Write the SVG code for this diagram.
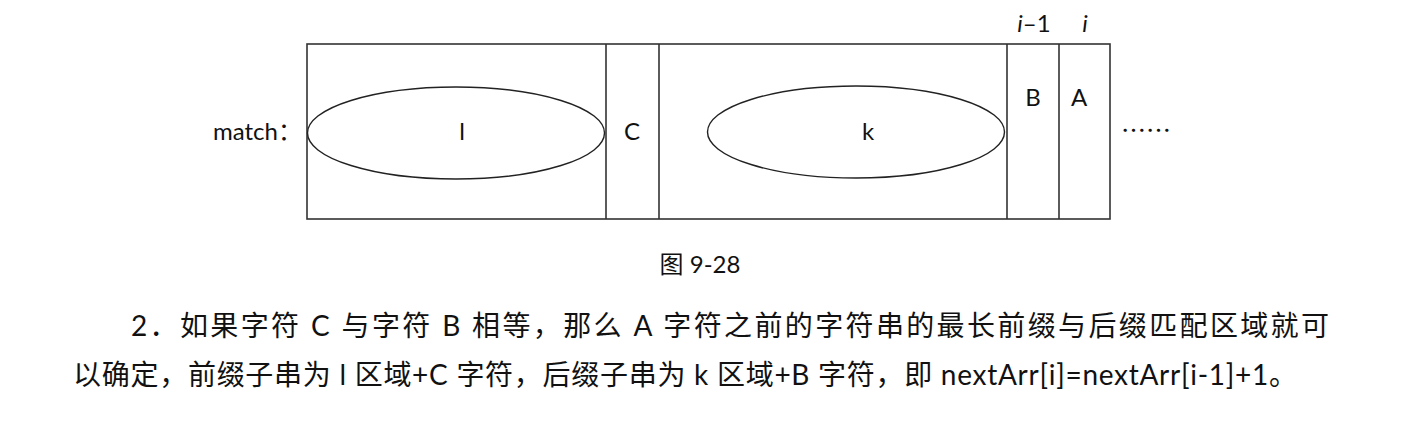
<svg xmlns="http://www.w3.org/2000/svg" width="1416" height="432" viewBox="0 0 1416 432">
<style>
.box{fill:none;stroke:#333;stroke-width:1.6}
.ell{fill:none;stroke:#222;stroke-width:1.4}
.lbl{font-family:Lato,"Noto Sans CJK SC",sans-serif;font-size:24px;fill:#111}
.ital{font-family:Lato,"Noto Sans CJK SC",sans-serif;font-size:24px;font-style:italic;fill:#111}
.body{font-family:Lato,"Noto Sans CJK SC",sans-serif;font-size:28px;fill:#111}
.cap{font-family:Lato,"Noto Sans CJK SC",sans-serif;font-size:24px;fill:#111}
</style>
<rect width="1416" height="432" fill="#fff"/>
<g id="array">
<rect class="box" x="307" y="44" width="803" height="175"/>
<line class="box" x1="606" y1="44" x2="606" y2="219"/>
<line class="box" x1="659" y1="44" x2="659" y2="219"/>
<line class="box" x1="1007" y1="44" x2="1007" y2="219"/>
<line class="box" x1="1059" y1="44" x2="1059" y2="219"/>
</g>
<g id="label-match"><text class="lbl" x="213" y="140">match：</text></g>
<g id="region-l">
<ellipse class="ell" cx="456" cy="133" rx="148.5" ry="46"/>
<text class="lbl" x="462" y="140" text-anchor="middle">l</text>
</g>
<g id="cell-C"><text class="lbl" x="632" y="140" text-anchor="middle">C</text></g>
<g id="region-k">
<ellipse class="ell" cx="856" cy="132" rx="148.5" ry="46"/>
<text class="lbl" x="868" y="140" text-anchor="middle">k</text>
</g>
<g id="cell-B">
<text class="lbl" x="1033" y="106" text-anchor="middle">B</text>
<text x="1034" y="32" text-anchor="middle" class="lbl"><tspan font-style="italic">i</tspan>–1</text>
</g>
<g id="cell-A">
<text class="lbl" x="1079" y="106" text-anchor="middle">A</text>
<text class="ital" x="1085" y="32" text-anchor="middle">i</text>
</g>
<g id="ellipsis"><text x="1121" y="140" style="font-family:'Noto Sans CJK SC',sans-serif;font-size:25px;fill:#111">……</text></g>
<g id="connectors"></g>
<g id="caption"><text class="cap" x="700" y="273" text-anchor="middle">图 9-28</text></g>
<g id="paragraph">
<text class="body" x="131" y="336" textLength="1198" lengthAdjust="spacing">2．如果字符 C 与字符 B 相等，那么 A 字符之前的字符串的最长前缀与后缀匹配区域就可</text>
<text class="body" x="73" y="385" textLength="1224" lengthAdjust="spacing">以确定，前缀子串为 l 区域+C 字符，后缀子串为 k 区域+B 字符，即 nextArr[i]=nextArr[i-1]+1。</text>
</g>
</svg>
